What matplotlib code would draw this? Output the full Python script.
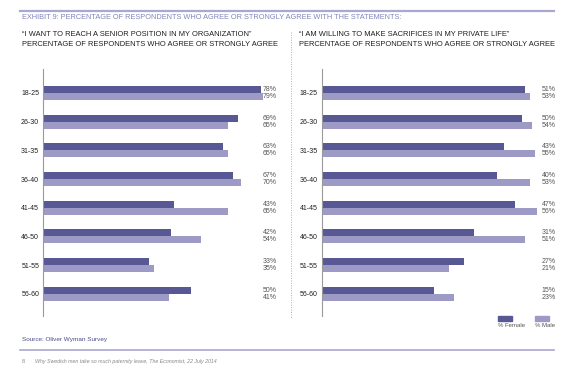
import numpy as np
import matplotlib
matplotlib.use("Agg")
import matplotlib.pyplot as plt
from matplotlib.patches import Rectangle
from matplotlib.lines import Line2D
from matplotlib.transforms import blended_transform_factory

age_groups = ["18-25", "26-30", "31-35", "36-40", "41-45", "46-50", "51-55", "56-60"]
senior_female = [78, 69, 63, 67, 43, 42, 33, 50]
senior_male = [79, 65, 65, 70, 65, 54, 35, 41]
sacrifice_female = [51, 50, 43, 40, 47, 31, 27, 15]
sacrifice_male = [53, 54, 55, 53, 56, 51, 21, 23]

DARK = "#585895"
LIGHT = "#9d9bc6"
TITLE_C = "#8285bb"
RULE_C = "#a9a8d0"
TEXT_C = "#1e1e1e"
NUM_C = "#555555"

plt.rcParams["font.family"] = ["Liberation Sans", "DejaVu Sans"]

W, H = 582, 370
fig = plt.figure(figsize=(W / 100, H / 100), dpi=100)


def fx(x):
    return x / W


def fy(y):
    return 1 - y / H


def panel(x_axis, base, px_per_pct, label_x, female, male):
    width_px = 240
    ax = fig.add_axes([fx(x_axis), fy(316), width_px / W, (316 - 69) / H])
    y = np.arange(len(age_groups))
    h = 7 / 28.7
    f = np.array(female)
    m = np.array(male)
    # bars start at the axis line (the exhibit's scale does not start at 0)
    ax.barh(y - h / 2, f - base, left=base, height=h, color=DARK)
    ax.barh(y + h / 2, m - base, left=base, height=h, color=LIGHT)
    ax.set_xlim(base, base + width_px / px_per_pct)
    ax.set_ylim(7.77, -0.836)
    ax.set_yticks(y, age_groups)
    ax.set_xticks([])
    ax.tick_params(axis="y", length=0, pad=3, labelsize=5, labelcolor=TEXT_C)
    for s in ["top", "right", "bottom"]:
        ax.spines[s].set_visible(False)
    ax.spines["left"].set_color("#9a9a9a")
    ax.spines["left"].set_linewidth(0.8)
    tr = blended_transform_factory(ax.transAxes, ax.transData)
    tx = (label_x - x_axis) / width_px
    for i in range(len(y)):
        ax.text(tx, y[i] - h / 2, f"{f[i]}%", transform=tr, ha="left", va="center",
                fontsize=5, color=NUM_C)
        ax.text(tx, y[i] + h / 2, f"{m[i]}%", transform=tr, ha="left", va="center",
                fontsize=5, color=NUM_C)
    return ax


panel(43.3, -9.5, 2.485, 262.5, senior_female, senior_male)
panel(321.5, -29.9, 2.51, 541.5, sacrifice_female, sacrifice_male)

# rules and separator
fig.add_artist(Line2D([fx(20), fx(554)], [fy(10.5), fy(10.5)], color=RULE_C, lw=1.6))
fig.add_artist(Line2D([fx(20), fx(554)], [fy(350), fy(350)], color=RULE_C, lw=1.2))
fig.add_artist(Line2D([fx(291), fx(291)], [fy(32), fy(318)], color="#b0b0b0", lw=0.7,
                      linestyle=(0, (1, 1.5))))

# titles
fig.text(fx(22), fy(17.5), "EXHIBIT 9: PERCENTAGE OF RESPONDENTS WHO AGREE OR STRONGLY AGREE WITH THE STATEMENTS:",
         fontsize=5.35, color=TITLE_C, va="center", ha="left")
sub_kw = dict(fontsize=5.4, color=TEXT_C, va="center", ha="left", weight="medium")
fig.text(fx(22), fy(35), "\u201cI WANT TO REACH A SENIOR POSITION IN MY ORGANIZATION\u201d", **sub_kw)
fig.text(fx(22), fy(44.5), "PERCENTAGE OF RESPONDENTS WHO AGREE OR STRONGLY AGREE", **sub_kw)
fig.text(fx(299), fy(35), "\u201cI AM WILLING TO MAKE SACRIFICES IN MY PRIVATE LIFE\u201d", **sub_kw)
fig.text(fx(299), fy(44.5), "PERCENTAGE OF RESPONDENTS WHO AGREE OR STRONGLY AGREE", **sub_kw)

# legend
for x0, col, lab in [(498, DARK, "% Female"), (535, LIGHT, "% Male")]:
    fig.add_artist(Rectangle((fx(x0), fy(321)), 14 / W, 5 / H, color=col,
                             transform=fig.transFigure))
    fig.text(fx(x0), fy(325.5), lab, fontsize=4.3, color=NUM_C, va="center", ha="left")

# source and footer
fig.text(fx(22), fy(340), "Source: Oliver Wyman Survey", fontsize=4.6, color="#4a4a85",
         va="center", ha="left")
fig.text(fx(22), fy(361.5), "8", fontsize=4, color="#888888", va="center", ha="left")
fig.text(fx(35), fy(361.5), "Why Swedish men take so much paternity leave, The Economist, 22 July 2014",
         fontsize=3.8, color="#888888", style="italic", va="center", ha="left")

fig.savefig("out.png", dpi=100)
